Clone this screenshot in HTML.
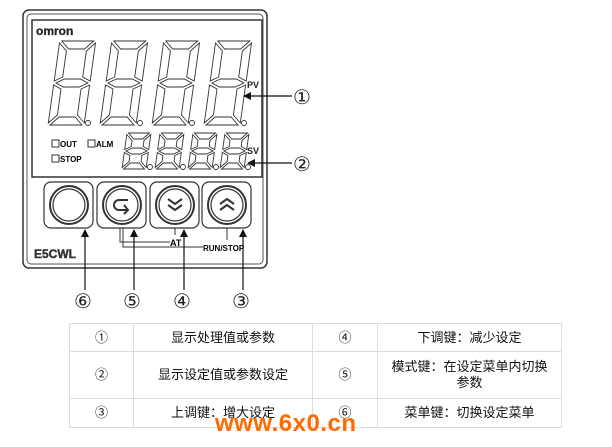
<!DOCTYPE html>
<html><head><meta charset="utf-8"><style>
body{margin:0;background:#fff;width:612px;height:447px;overflow:hidden;position:relative;font-family:"Liberation Sans","Noto Sans CJK SC",sans-serif}
svg{position:absolute;left:0;top:0}
table{position:absolute;left:69px;top:323px;border-collapse:collapse;font-size:13px;color:#111}
td{border:1px solid #ddd;text-align:center;padding:0;line-height:16px}
.wm{position:absolute;left:215px;top:410px;font:bold 24px "Liberation Sans",sans-serif;color:#ff6a00;letter-spacing:0.5px}
</style></head><body>
<svg id="s" width="612" height="447" xmlns="http://www.w3.org/2000/svg" font-family="Liberation Sans, sans-serif">
<rect x="23" y="10" width="244" height="258" rx="6" fill="#fff" stroke="#333" stroke-width="1.5"/>
<rect x="27" y="14" width="236" height="250" rx="4" fill="none" stroke="#555" stroke-width="1"/>
<rect x="32" y="20" width="230" height="157" fill="none" stroke="#333" stroke-width="1.5"/>
<text x="36" y="35" font-size="12" font-weight="bold" fill="#222" stroke="#222" stroke-width="0.3">omron</text>
<text x="247" y="88" font-size="9" font-weight="bold" fill="#222">PV</text>
<text x="247" y="154" font-size="9" font-weight="bold" fill="#222">SV</text>
<rect x="52" y="140" width="7" height="7" fill="none" stroke="#333"/><text x="60" y="147" font-size="8" font-weight="bold">OUT</text>
<rect x="88" y="140" width="7" height="7" fill="none" stroke="#333"/><text x="96" y="147" font-size="8" font-weight="bold">ALM</text>
<rect x="52" y="155" width="7" height="7" fill="none" stroke="#333"/><text x="60" y="162" font-size="8" font-weight="bold">STOP</text>
<g id="dg" fill="none" stroke="#333" stroke-width="0.9"></g>
<g fill="#fff" stroke="#333" stroke-width="1.2">
<rect x="44" y="182" width="49" height="46" rx="7"/><rect x="97" y="182" width="49" height="46" rx="7"/>
<rect x="150" y="182" width="49" height="46" rx="7"/><rect x="202" y="182" width="49" height="46" rx="7"/>
<circle cx="69" cy="205" r="19" stroke-width="2"/><circle cx="69" cy="205" r="16"/>
<circle cx="122" cy="205" r="19" stroke-width="2"/><circle cx="122" cy="205" r="16"/>
<circle cx="175" cy="205" r="19" stroke-width="2"/><circle cx="175" cy="205" r="16"/>
<circle cx="227" cy="205" r="19" stroke-width="2"/><circle cx="227" cy="205" r="16"/>
</g>
<path d="M128 200 h-9 a5 5 0 0 0 0 10 h8 M124 205 l4 5 -4 4" fill="none" stroke="#333" stroke-width="2"/>
<path d="M168 199 l7 5 7-5 M168 205 l7 5 7-5" fill="none" stroke="#333" stroke-width="2"/>
<path d="M220 210 l7-5 7 5 M220 204 l7-5 7 5" fill="none" stroke="#333" stroke-width="2"/>
<text x="34" y="258" font-size="12" font-weight="bold" fill="#333" stroke="#333" stroke-width="0.4">E5CWL</text>
<g stroke="#333" stroke-width="1" fill="none">
<path d="M120 228 v14 h50 M123 228 v19 h80 M175 228 v7 M227 228 v12"/>
</g>
<text x="170" y="246" font-size="9" font-weight="bold">AT</text>
<text x="203" y="251" font-size="8" font-weight="bold">RUN/STOP</text>
<g stroke="#111" stroke-width="1.2">
<line x1="245" y1="96" x2="292" y2="96"/><line x1="250" y1="163" x2="292" y2="163"/>
<line x1="85" y1="232" x2="85" y2="290"/><line x1="134" y1="232" x2="134" y2="290"/>
<line x1="184" y1="232" x2="184" y2="290"/><line x1="243" y1="232" x2="243" y2="290"/>
</g>
<g fill="#111">
<path d="M243 96 l8-4 v8z"/><path d="M247 163 l8-4 v8z"/>
<path d="M85 229 l-4 8 h8z"/><path d="M134 229 l-4 8 h8z"/><path d="M184 229 l-4 8 h8z"/><path d="M243 229 l-4 8 h8z"/>
</g>
<g font-family="Liberation Sans, DejaVu Sans, Noto Sans CJK SC, sans-serif" font-size="20" fill="#222">
<text x="293" y="104">①</text><text x="293" y="171">②</text>
<text x="74" y="308">⑥</text><text x="123" y="308">⑤</text><text x="173" y="308">④</text><text x="232" y="308">③</text>
</g>
</svg>
<table>
<tr style="height:28px"><td style="width:63px">①</td><td style="width:178px">显示处理值或参数</td><td style="width:64px">④</td><td style="width:183px">下调键：减少设定</td></tr>
<tr style="height:47px"><td>②</td><td>显示设定值或参数设定</td><td>⑤</td><td>模式键：在设定菜单内切换<br>参数</td></tr>
<tr style="height:29px"><td>③</td><td>上调键：增大设定</td><td>⑥</td><td>菜单键：切换设定菜单</td></tr>
</table>
<div class="wm">www.6x0.cn</div>
<script>
function digit(x0,y0,W,H,t,g,sl,out){
 var segs=[[[g,0],[W-g,0],[W-g-t,t],[g+t,t]],
 [[g,H],[W-g,H],[W-g-t,H-t],[g+t,H-t]],
 [[g,H/2],[g+t,H/2-t/2],[W-g-t,H/2-t/2],[W-g,H/2],[W-g-t,H/2+t/2],[g+t,H/2+t/2]],
 [[0,g],[t,g+t],[t,H/2-g-t/2],[0,H/2-g]],
 [[W,g],[W-t,g+t],[W-t,H/2-g-t/2],[W,H/2-g]],
 [[0,H-g],[t,H-g-t],[t,H/2+g+t/2],[0,H/2+g]],
 [[W,H-g],[W-t,H-g-t],[W-t,H/2+g+t/2],[W,H/2+g]]];
 segs.forEach(function(s){out.push('<polygon points="'+s.map(function(p){return (x0+p[0]+sl*(H-p[1])).toFixed(1)+','+(y0+p[1]).toFixed(1)}).join(' ')+'"/>');});
 out.push('<circle cx="'+(x0+W+4)+'" cy="'+(y0+H-2)+'" r="2.5"/>');
}
var o=[];
[48,100,152,204].forEach(function(x){digit(x,41,36,84,8,2,0.14,o);});
[122,155,188,220].forEach(function(x){digit(x,133,24,36,6,1.5,0.14,o);});
document.getElementById('dg').innerHTML=o.join('');
</script>
</body></html>
